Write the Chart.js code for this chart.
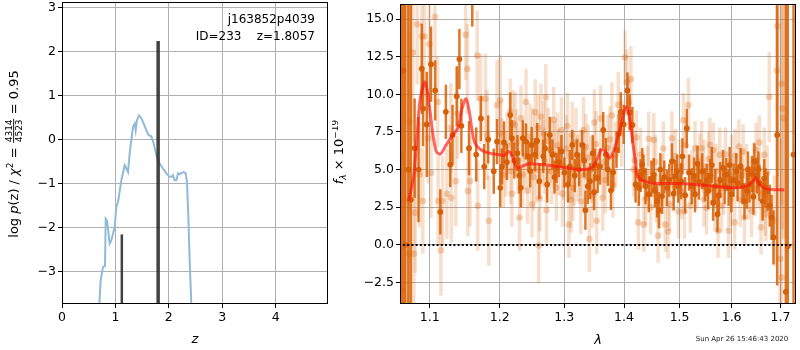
<!DOCTYPE html>
<html>
<head>
<meta charset="utf-8">
<script src="https://cdn.jsdelivr.net/npm/chart.js@4.4.1/dist/chart.umd.min.js"></script>
<style>
    html, body { margin: 0; padding: 0; background: #fff; }
    #wrap { position: relative; width: 800px; height: 350px; overflow: hidden; }
    #pzChart { position: absolute; left: 0; top: 0; }
    #specChart { position: absolute; left: 332px; top: 0; }
</style>
</head>
<body>
<div id="wrap">
    <canvas id="pzChart" width="332" height="350"></canvas>
    <canvas id="specChart" width="468" height="350"></canvas>
</div>
<script>
// ---- left panel: redshift probability ----
const pzZ = [0.69, 0.699, 0.724, 0.768, 0.805, 0.818, 0.843, 0.893, 0.924, 0.986,
    1.018, 1.049, 1.111, 1.173, 1.205, 1.236, 1.267, 1.329, 1.361, 1.379,
    1.404, 1.441, 1.486, 1.529, 1.580, 1.623, 1.673, 1.716, 1.767, 1.829,
    1.890, 1.954, 2.016, 2.047, 2.078, 2.109, 2.141, 2.172, 2.203, 2.234,
    2.278, 2.315, 2.340, 2.365, 2.390, 2.421, 2.43];
const pzLogP = [-4.1, -3.75, -3.20, -2.90, -2.88, -1.80, -1.84, -2.37, -2.29, -1.99,
    -1.53, -1.42, -0.93, -0.585, -0.66, -0.74, -0.32, 0.29, 0.36, 0.21,
    0.44, 0.55, 0.48, 0.36, 0.21, 0.10, 0.075, -0.09, -0.36, -0.55,
    -0.66, -0.77, -0.85, -0.85, -0.81, -0.93, -0.93, -0.77, -0.79, -0.76,
    -0.74, -0.77, -0.965, -1.76, -2.75, -3.75, -4.1];
const peakZ = [1.12, 1.80];
const peakTop = [-2.16, 2.245];
const zTicks = [0, 1, 2, 3, 4];
const logPTicks = [-3, -2, -1, 0, 1, 2, 3];

// ---- right panel: spectrum ----
const darkWave = [1.0615, 1.0645, 1.0671, 1.0713, 1.0746, 1.0796, 1.0849, 1.0893, 1.0910, 1.0960,
    1.1018, 1.1075, 1.1146, 1.1223, 1.1284, 1.1316, 1.1376, 1.1413, 1.1441, 1.1550,
    1.1597, 1.1654, 1.1722, 1.1770, 1.1828, 1.1910, 1.1959, 1.2007, 1.2062, 1.2106,
    1.2156, 1.2181, 1.2267, 1.2316, 1.2347, 1.2397, 1.2433, 1.2484, 1.2535, 1.2603,
    1.2665, 1.2727, 1.2768, 1.2810, 1.2873, 1.2953, 1.3001, 1.3059, 1.3129, 1.3205,
    1.3242, 1.3291, 1.3345, 1.3384, 1.3422, 1.3467, 1.3505, 1.3550, 1.3589, 1.3644,
    1.3689, 1.3723, 1.3774, 1.3813, 1.3870, 1.3909, 1.3944, 1.3995, 1.4059, 1.4099,
    1.4146, 1.4203, 1.4261, 1.4321, 1.4379, 1.4437, 1.4485, 1.4526, 1.4587, 1.4619,
    1.4677, 1.4718, 1.4767, 1.4809, 1.4858, 1.4918, 1.4974, 1.5029, 1.5053, 1.5134,
    1.5177, 1.5228, 1.5290, 1.5365, 1.5427, 1.5478, 1.5541, 1.5583, 1.5637, 1.5679,
    1.5722, 1.5776, 1.5830, 1.5896, 1.5941, 1.5995, 1.6040, 1.6093, 1.6179, 1.6218,
    1.6258, 1.6308, 1.6358, 1.6409, 1.6459, 1.6509, 1.6560, 1.6628, 1.6683, 1.6730,
    1.6775, 1.6813, 1.6854, 1.6931, 1.7113, 1.7155, 1.7278,
    1.2032, 1.2218, 1.2294, 1.2461, 1.2569, 1.2693, 1.2842, 1.2913, 1.3088, 1.3169,
    1.3324, 1.3489, 1.4291, 1.4344, 1.4547, 1.4646, 1.4890, 1.4955, 1.5103, 1.5271,
    1.5336, 1.5516, 1.5612, 1.5747, 1.5863, 1.5961, 1.6119, 1.6328, 1.6439, 1.6540,
    1.6662];
const darkFlux = [-8, 11.58, 0.0, 5.0, 3.0, 6.42, 5.0, 11.7, 9.05, 8.0,
    12.0, 10.26, 2.19, 8.84, 5.33, 7.3, 9.87, 12.34, 7.91, 6.42,
    16.8, 6.0, 8.4, 5.2, 7.0, 4.89, 6.86, 3.79, 6.8, 5.5,
    8.62, 7.08, 6.09, 3.79, 7.08, 6.86, 5.88, 6.64, 5.99, 4.23,
    5.88, 4.01, 7.3, 5.99, 5.11, 6.2, 4.8, 4.01, 6.64, 5.99,
    5.0, 6.64, 2.30, 3.90, 4.23, 6.09, 5.3, 4.45, 5.2, 7.63,
    6.0, 5.0, 3.62, 4.82, 6.32, 7.4, 8.84, 8.0, 10.26, 8.8,
    7.96, 4.01, 3.79, 5.33, 3.90, 3.36, 4.4, 4.67, 2.91, 2.3,
    3.24, 4.5, 3.79, 4.3, 5.55, 4.56, 3.9, 4.23, 5.88, 7.74,
    4.8, 3.90, 3.36, 4.2, 4.89, 4.0, 3.57, 4.6, 2.80, 3.9,
    2.04, 4.3, 5.11, 4.67, 3.8, 3.36, 4.3, 4.89, 5.22, 3.9,
    2.91, 3.6, 4.01, 4.7, 5.55, 4.6, 4.12, 2.91, 3.8, 3.57,
    2.6, 1.82, 0.50, 7.3, -3.12, -0.1, 6.0,
    5.2, 5.6, 4.6, 4.9, 6.9, 6.4, 4.5, 5.5, 5.2, 4.6,
    5.6, 3.5, 4.6, 4.9, 3.6, 5.0, 3.4, 4.9, 3.3, 4.6,
    5.4, 4.3, 5.3, 3.3, 3.9, 5.3, 4.1, 5.0, 3.2, 5.0,
    4.4];
const darkErr = [30, 25, 25, 22, 20, 3.3, 3.5, 3.0, 2.5, 3.5,
    2.5, 2.0, 1.5, 1.8, 1.5, 2.0, 2.0, 2.0, 1.8, 1.8,
    2.3, 1.8, 1.5, 1.5, 1.6, 1.5, 1.5, 1.3, 1.4, 1.2,
    1.5, 1.2, 1.2, 1.3, 1.2, 1.2, 1.0, 1.2, 1.1, 1.2,
    1.1, 1.2, 1.2, 1.0, 1.0, 1.1, 1.0, 1.2, 1.0, 1.0,
    1.1, 1.0, 1.3, 1.2, 1.2, 1.2, 1.1, 1.0, 1.2, 1.2,
    1.1, 1.1, 1.3, 1.2, 1.2, 1.3, 1.3, 1.3, 1.2, 1.2,
    1.2, 1.2, 1.2, 1.1, 1.2, 1.2, 1.2, 1.1, 1.1, 1.2,
    1.2, 1.1, 1.2, 1.1, 1.2, 1.1, 1.1, 1.2, 1.2, 1.3,
    1.2, 1.2, 1.2, 1.2, 1.2, 1.1, 1.2, 1.1, 1.2, 1.1,
    1.2, 1.2, 1.2, 1.1, 1.2, 1.2, 1.1, 1.2, 1.2, 1.2,
    1.2, 1.2, 1.2, 1.2, 1.2, 1.2, 1.2, 1.3, 1.3, 1.3,
    1.4, 1.5, 1.8, 10, 20, 20, 25,
    1.2, 1.2, 1.2, 1.1, 1.2, 1.1, 1.1, 1.0, 1.1, 1.1,
    1.1, 1.2, 1.1, 1.1, 1.1, 1.1, 1.1, 1.1, 1.2, 1.2,
    1.2, 1.1, 1.2, 1.2, 1.2, 1.2, 1.2, 1.2, 1.2, 1.2,
    1.3];

const lightWave = [1.0609, 1.0628, 1.0681, 1.0716, 1.0729, 1.0773, 1.0786, 1.0804, 1.0830, 1.0862,
    1.0893, 1.0906, 1.0929, 1.0980, 1.0996, 1.1018, 1.1072, 1.1109, 1.1116, 1.1154,
    1.1177, 1.1237, 1.1292, 1.1299, 1.1361, 1.1385, 1.1502, 1.1526, 1.1533, 1.1564,
    1.1668, 1.1676, 1.1716, 1.1788, 1.1813, 1.1838, 1.1959, 1.2007, 1.2032, 1.2058,
    1.2092, 1.2156, 1.2166, 1.2196, 1.2231, 1.2271, 1.2297, 1.2347, 1.2377, 1.2397,
    1.2458, 1.2489, 1.2515, 1.2561, 1.2587, 1.2592, 1.2628, 1.2654, 1.2685, 1.2705,
    1.2716, 1.2779, 1.2794, 1.2842, 1.2873, 1.2905, 1.2953, 1.2985, 1.3032, 1.3075,
    1.3096, 1.3129, 1.3140, 1.3161, 1.3221, 1.3259, 1.3312, 1.3324, 1.3389, 1.3411,
    1.3439, 1.3494, 1.3533, 1.3634, 1.3656, 1.3718, 1.3757, 1.3808, 1.3858, 1.4018,
    1.4087, 1.4168, 1.4215, 1.4250, 1.4349, 1.4414, 1.4437, 1.4526, 1.4556, 1.4605,
    1.4637, 1.4677, 1.4736, 1.4785, 1.4858, 1.4882, 1.4979, 1.5011, 1.5071, 1.5090,
    1.5164, 1.5234, 1.5290, 1.5327, 1.5416, 1.5459, 1.5510, 1.5574, 1.5612, 1.5670,
    1.5733, 1.5766, 1.5844, 1.5941, 1.6000, 1.6060, 1.6145, 1.6199, 1.6258, 1.6338,
    1.6439, 1.6493, 1.6540, 1.6595, 1.6662, 1.6697, 1.6724, 1.6765, 1.6869, 1.6925,
    1.6937, 1.6994, 1.7021, 1.7025, 1.7042, 1.7063,
    1.2012, 1.2110, 1.2182, 1.2252, 1.2320, 1.2420, 1.2502, 1.2540, 1.2610, 1.2672,
    1.2745, 1.2830, 1.2890, 1.2970, 1.3050, 1.3110, 1.3190, 1.3270, 1.3350, 1.3460,
    1.3520, 1.3600, 1.3680, 1.3790, 1.3900, 1.3960, 1.4050, 1.4120, 1.4190, 1.4290,
    1.4380, 1.4470, 1.4570, 1.4700, 1.4810, 1.4920, 1.5040, 1.5120, 1.5200, 1.5380,
    1.5460, 1.5550, 1.5640, 1.5700, 1.5800, 1.5880, 1.5980, 1.6070, 1.6170, 1.6230,
    1.6300, 1.6400, 1.6470, 1.6560, 1.6620, 1.6680];
const lightFlux = [6, -3, 3, -0.6, 8.18, 12.78, -0.59, 2.14, 14.65, 4.67,
    13.84, 2.91, 13.84, 7.08, 13.33, 4.78, 15.15, 9.49, 2.91, -0.37,
    2.91, 3.39, 7.74, 3.13, 4.23, 8.72, 13.95, 11.68, 3.57, 4.23,
    12.57, 2.59, 9.71, 9.71, 7.3, 1.6, 9.28, 9.61, 6.2, 4.67,
    5.4, 8.84, 4.9, 8.07, 7.96, 5.6, 1.82, 4.67, 5.9, 9.49,
    7.19, 2.70, 4.5, 5.0, 7.78, -0.05, 8.51, 6.1, 5.6, 9.82,
    2.30, 6.3, 4.89, 6.0, 3.79, 5.5, 7.63, 5.2, 6.4, 1.34,
    5.2, 7.3, 3.79, 4.8, 5.11, 5.4, 7.63, 4.6, 5.8, 0.39,
    5.0, 8.13, 1.6, 3.13, 5.5, 6.42, 7.0, 4.0, 5.99, 12.45,
    9.49, 5.0, 7.13, 1.49, 1.34, 4.8, 7.04, 6.97, 5.5, 0.61,
    2.91, 4.23, 1.34, 0.89, 7.08, 4.0, 2.21, 5.2, 8.29, 2.21,
    9.28, 4.5, 6.42, 4.2, 6.42, 5.2, 2.47, 6.64, 4.5, 2.7,
    0.94, 5.99, 3.8, 0.94, 5.5, 1.49, 6.53, 4.6, 1.82, 3.5,
    5.0, 6.32, 4.2, 1.16, 5.99, 2.04, 4.8, 9.82, 1.6, 11.58,
    14.54, -0.92, 10.7, -2.17, 9.05, 8.4,
    7.4, 6.6, 3.4, 6.8, 8.4, 3.6, 6.9, 8.8, 3.1, 7.4,
    6.9, 8.3, 6.6, 3.4, 7.9, 3.0, 6.9, 2.9, 6.5, 3.3,
    6.7, 8.4, 4.3, 8.6, 9.3, 7.4, 10.8, 11.0, 5.6, 6.0,
    3.1, 2.5, 3.3, 6.4, 2.7, 5.9, 3.5, 6.6, 2.6, 5.6,
    3.0, 5.7, 6.3, 4.9, 2.6, 6.0, 3.0, 5.9, 3.0, 6.2,
    4.9, 2.3, 3.7, 6.8, 3.4, 2.4];
const lightErr = [30, 30, 30, 25, 6, 6, 5, 4, 4, 3.5,
    4, 3.5, 4, 3, 3.5, 3, 3.5, 3, 3, 3,
    3, 3, 3, 3, 3, 3, 3, 3, 3, 3,
    3, 3, 3, 3, 3, 3, 3, 3, 2.2, 2.2,
    2.2, 2.2, 2.2, 2.2, 2.2, 2.2, 2.2, 2.2, 2.2, 2.2,
    2.2, 2.2, 2.2, 2.2, 2.2, 2.5, 2.2, 2.2, 2.2, 2.2,
    2.2, 2.2, 2.2, 2.2, 2.2, 2.2, 2.2, 2.2, 2.2, 2.2,
    2.2, 2.2, 2.2, 2.2, 2.2, 2.2, 2.2, 2.2, 2.2, 2.2,
    2.2, 2.2, 2.2, 2.2, 2.2, 2.2, 2.2, 2.2, 2.2, 1.8,
    1.8, 1.8, 1.8, 1.8, 1.8, 1.8, 1.8, 1.8, 1.8, 1.8,
    1.8, 1.8, 1.8, 1.8, 1.8, 1.8, 1.8, 1.8, 1.8, 1.8,
    1.8, 1.8, 1.8, 1.8, 1.8, 1.8, 1.8, 1.8, 1.8, 1.8,
    1.8, 1.8, 1.8, 1.8, 1.8, 1.8, 1.8, 1.8, 1.8, 1.8,
    1.8, 1.8, 1.8, 1.8, 1.8, 1.8, 1.8, 3, 3, 8,
    10, 8, 8, 6, 8, 8,
    2.2, 2.2, 2.2, 2.2, 2.2, 2.2, 2.2, 2.2, 2.2, 2.2,
    2.2, 2.2, 2.2, 2.2, 2.2, 2.2, 2.2, 2.2, 2.2, 2.2,
    2.2, 2.2, 2.2, 2.2, 2.2, 2.2, 2.2, 2.2, 2.0, 1.8,
    1.8, 1.8, 1.8, 1.8, 1.8, 1.8, 1.8, 1.8, 1.8, 1.8,
    1.8, 1.8, 1.8, 1.8, 1.8, 1.8, 1.8, 1.8, 1.8, 1.8,
    1.8, 1.8, 1.8, 1.8, 1.8, 1.8];

const modelWave = [1.0716, 1.0786, 1.0830, 1.0866, 1.0933, 1.0977, 1.1045, 1.1091, 1.1146, 1.1228,
    1.1320, 1.1389, 1.1451, 1.1507, 1.1554, 1.1626, 1.1722, 1.1842, 1.1988, 1.2062,
    1.2136, 1.2186, 1.2261, 1.2336, 1.2438, 1.2643, 1.2957, 1.3280, 1.3444, 1.3527,
    1.3610, 1.3668, 1.3752, 1.3836, 1.3949, 1.4035, 1.4094, 1.4151, 1.4208, 1.4238,
    1.4356, 1.4592, 1.4955, 1.5265, 1.5645, 1.6034, 1.6298, 1.6433, 1.6485, 1.6566,
    1.6703, 1.7083];
const modelFlux = [2.91, 4.67, 7.30, 9.49, 10.81, 9.93, 7.30, 6.20, 6.03, 6.64,
    7.30, 7.74, 9.05, 9.71, 8.84, 6.86, 6.32, 6.09, 5.99, 5.94,
    6.20, 5.88, 5.11, 5.22, 5.39, 5.33, 5.17, 5.00, 5.11, 5.55,
    6.32, 6.25, 5.76, 6.42, 7.96, 9.16, 8.51, 6.86, 5.33, 4.56,
    4.23, 4.08, 4.08, 4.01, 3.90, 3.79, 3.90, 4.23, 4.45, 4.01,
    3.72, 3.64];
const waveTicks = [1.1, 1.2, 1.3, 1.4, 1.5, 1.6, 1.7];
const fluxTicks = [-2.5, 0, 2.5, 5, 7.5, 10, 12.5, 15];

Chart.defaults.font.family = '"DejaVu Sans", sans-serif';
Chart.defaults.color = '#000';

const FONT = '"DejaVu Sans", sans-serif';
const GRID = '#b0b0b0';

function toPoints(xs, ys) {
    return xs.map((x, i) => ({ x: x, y: ys[i] }));
}

function minusSign(s) {
    return String(s).replace('-', '\u2212');
}

// draws mixed-font text centred on (cx, cy), optionally rotated
function drawRich(ctx, pieces, cx, cy, angle) {
    ctx.save();
    ctx.translate(cx, cy);
    ctx.rotate(angle);
    ctx.fillStyle = '#000';
    ctx.textBaseline = 'alphabetic';
    ctx.textAlign = 'left';
    let total = 0;
    pieces.forEach(p => {
        ctx.font = p.font;
        if (p.frac) {
            p.w = Math.max(ctx.measureText(p.frac[0]).width, ctx.measureText(p.frac[1]).width) + 2;
        } else {
            p.w = ctx.measureText(p.text).width;
        }
        total += p.w;
    });
    let x = -total / 2;
    pieces.forEach(p => {
        ctx.font = p.font;
        if (p.frac) {
            const mid = x + p.w / 2;
            ctx.textAlign = 'center';
            ctx.fillText(p.frac[0], mid, -5.8);
            ctx.fillText(p.frac[1], mid, 4.2);
            ctx.fillRect(x + 0.5, -4.8, p.w - 1, 0.9);
            ctx.textAlign = 'left';
        } else {
            ctx.fillText(p.text, x, p.dy || 0);
        }
        x += p.w;
    });
    ctx.restore();
}

// black box round the plot area
const frame = {
    id: 'frame',
    afterDraw(chart) {
        const a = chart.chartArea;
        const ctx = chart.ctx;
        ctx.save();
        ctx.strokeStyle = '#000';
        ctx.lineWidth = 1;
        ctx.strokeRect(Math.round(a.left) + 0.5, Math.round(a.top) + 0.5,
            Math.round(a.right - a.left) - 1, Math.round(a.bottom - a.top) - 1);
        ctx.restore();
    }
};

// vertical error bars, drawn just under each dataset's points
const errorBars = {
    id: 'errorBars',
    beforeDatasetDraw(chart, args) {
        const ds = chart.data.datasets[args.index];
        if (!ds.errors) return;
        const a = chart.chartArea;
        const ctx = chart.ctx;
        const xs = chart.scales.x;
        const ys = chart.scales.y;
        ctx.save();
        ctx.beginPath();
        ctx.rect(a.left, a.top, a.right - a.left, a.bottom - a.top);
        ctx.clip();
        ctx.strokeStyle = ds.errorColor;
        ctx.lineWidth = ds.errorWidth;
        ds.data.forEach((p, i) => {
            const px = xs.getPixelForValue(p.x);
            ctx.beginPath();
            ctx.moveTo(px, ys.getPixelForValue(p.y - ds.errors[i]));
            ctx.lineTo(px, ys.getPixelForValue(p.y + ds.errors[i]));
            ctx.stroke();
        });
        ctx.restore();
    }
};

function fixedScale(size, isX) {
    return function(s) {
        if (isX) {
            s.height = size;
            s.paddingLeft = 0;
            s.paddingRight = 0;
        } else {
            s.width = size;
            s.paddingTop = 0;
            s.paddingBottom = 0;
        }
    };
}

const pzText = {
    id: 'pzText',
    afterDraw(chart) {
        const ctx = chart.ctx;
        const a = chart.chartArea;
        ctx.save();
        ctx.fillStyle = '#000';
        ctx.font = '12px ' + FONT;
        ctx.textAlign = 'right';
        ctx.textBaseline = 'alphabetic';
        ctx.fillText('j163852p4039', a.right - 13, 23);
        ctx.fillText('ID=233    z=1.8057', a.right - 13, 40);
        ctx.font = 'italic 13px ' + FONT;
        ctx.textAlign = 'center';
        ctx.textBaseline = 'middle';
        ctx.fillText('z', (a.left + a.right) / 2, 340);
        ctx.restore();

        const big = '13px ' + FONT;
        const bigIt = 'italic 13px ' + FONT;
        const small = '9px ' + FONT;
        drawRich(ctx, [
            { text: 'log ', font: big },
            { text: 'p', font: bigIt },
            { text: '(z) / ', font: big },
            { text: '\u03c7', font: bigIt },
            { text: '2', font: small, dy: -5 },
            { text: ' = ', font: big },
            { frac: ['4314', '4523'], font: small },
            { text: ' = 0.95', font: big }
        ], 18, 154, -Math.PI / 2);
    }
};

const specText = {
    id: 'specText',
    afterDraw(chart) {
        const ctx = chart.ctx;
        const a = chart.chartArea;
        const ys = chart.scales.y;
        ctx.save();
        // dotted zero level
        ctx.strokeStyle = '#000';
        ctx.lineWidth = 2;
        ctx.setLineDash([2, 2.2]);
        const y0 = Math.round(ys.getPixelForValue(0));
        ctx.beginPath();
        ctx.moveTo(a.left + 3, y0);
        ctx.lineTo(a.right - 3, y0);
        ctx.stroke();
        ctx.setLineDash([]);

        ctx.fillStyle = '#000';
        ctx.font = 'italic 13px ' + FONT;
        ctx.textAlign = 'center';
        ctx.textBaseline = 'middle';
        ctx.fillText('\u03bb', (a.left + a.right) / 2, 341);
        ctx.font = '7px ' + FONT;
        ctx.fillStyle = '#222';
        ctx.fillText('Sun Apr 26 15:46:43 2020', 410, 339);
        ctx.restore();

        drawRich(ctx, [
            { text: 'f', font: 'italic 13px ' + FONT },
            { text: '\u03bb', font: 'italic 9px ' + FONT, dy: 3 },
            { text: ' \u00d7 10', font: '13px ' + FONT },
            { text: '\u221219', font: '9px ' + FONT, dy: -5 }
        ], 11, 152, -Math.PI / 2);
    }
};

const tickFont = { family: FONT, size: 12.5 };

const pzDatasets = [{
    data: toPoints(pzZ, pzLogP),
    showLine: true,
    borderColor: '#8fbbd9',
    borderWidth: 2,
    pointRadius: 0,
    order: 2
}];
peakZ.forEach((z, i) => {
    pzDatasets.push({
        data: [{ x: z, y: -5 }, { x: z, y: peakTop[i] }],
        showLine: true,
        borderColor: 'rgba(45,45,45,0.9)',
        borderWidth: i === 1 ? 3.5 : 2.5,
        pointRadius: 0,
        order: 1
    });
});

new Chart(document.getElementById('pzChart'), {
    type: 'scatter',
    data: { datasets: pzDatasets },
    options: {
        responsive: false,
        animation: false,
        layout: { padding: { left: 0, top: 2, right: 4, bottom: 0 } },
        plugins: { legend: { display: false }, tooltip: { enabled: false } },
        scales: {
            x: {
                type: 'linear',
                min: 0,
                max: 4.98,
                afterBuildTicks: s => { s.ticks = zTicks.map(v => ({ value: v })); },
                afterFit: fixedScale(46, true),
                ticks: { font: tickFont, color: '#000', padding: 2, maxRotation: 0 },
                grid: { color: GRID, lineWidth: 1, tickColor: '#000', tickLength: 4 },
                border: { display: false }
            },
            y: {
                type: 'linear',
                min: -3.744,
                max: 3.13,
                afterBuildTicks: s => { s.ticks = logPTicks.map(v => ({ value: v })); },
                afterFit: fixedScale(62, false),
                ticks: { font: tickFont, color: '#000', padding: 2, callback: v => minusSign(v) },
                grid: { color: GRID, lineWidth: 1, tickColor: '#000', tickLength: 4 },
                border: { display: false }
            }
        }
    },
    plugins: [frame, pzText]
});

new Chart(document.getElementById('specChart'), {
    type: 'scatter',
    data: {
        datasets: [
            {
                data: toPoints(lightWave, lightFlux),
                pointRadius: 3.3,
                pointBorderWidth: 0,
                backgroundColor: 'rgba(217,95,2,0.28)',
                errors: lightErr,
                errorColor: 'rgba(217,95,2,0.2)',
                errorWidth: 3.5,
                order: 3
            },
            {
                data: toPoints(darkWave, darkFlux),
                pointRadius: 2.9,
                pointBorderWidth: 0,
                backgroundColor: 'rgb(214,96,10)',
                errors: darkErr,
                errorColor: 'rgba(217,95,2,0.85)',
                errorWidth: 2.5,
                order: 2
            },
            {
                data: toPoints(modelWave, modelFlux),
                showLine: true,
                borderColor: 'rgba(255,20,10,0.65)',
                borderWidth: 3,
                tension: 0.3,
                pointRadius: 0,
                order: 1
            }
        ]
    },
    options: {
        responsive: false,
        animation: false,
        layout: { padding: { left: 0, top: 2, right: 1, bottom: 0 } },
        plugins: { legend: { display: false }, tooltip: { enabled: false } },
        scales: {
            x: {
                type: 'logarithmic',
                min: 1.0602,
                max: 1.7331,
                afterBuildTicks: s => { s.ticks = waveTicks.map(v => ({ value: v })); },
                afterFit: fixedScale(46, true),
                ticks: { font: tickFont, color: '#000', padding: 2, maxRotation: 0, autoSkip: false,
                    callback: v => Number(v).toFixed(1) },
                grid: { color: GRID, lineWidth: 1, tickColor: '#000', tickLength: 4 },
                border: { display: false }
            },
            y: {
                type: 'linear',
                min: -3.93,
                max: 16.0,
                afterBuildTicks: s => { s.ticks = fluxTicks.map(v => ({ value: v })); },
                afterFit: fixedScale(68, false),
                ticks: { font: tickFont, color: '#000', padding: 2, callback: v => minusSign(Number(v).toFixed(1)) },
                grid: { color: GRID, lineWidth: 1, tickColor: '#000', tickLength: 4 },
                border: { display: false }
            }
        }
    },
    plugins: [errorBars, frame, specText]
});
</script>
</body>
</html>
